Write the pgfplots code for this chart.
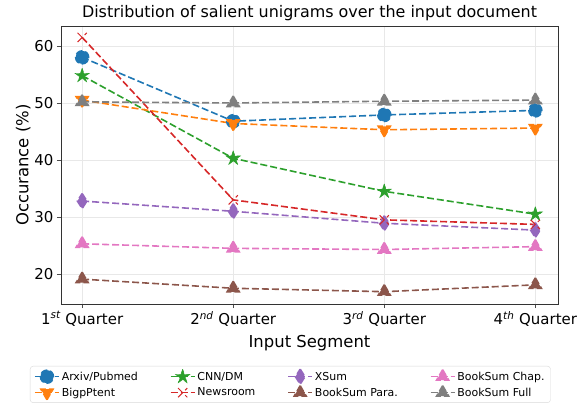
\documentclass[border=0pt]{standalone}
\usepackage{pgfplots}
\pgfplotsset{compat=1.18}
\usepackage{fontspec}
\setmainfont{DejaVu Sans}
\usetikzlibrary{plotmarks}
\definecolor{c0}{HTML}{1F77B4}
\definecolor{c1}{HTML}{FF7F0E}
\definecolor{c2}{HTML}{2CA02C}
\definecolor{c3}{HTML}{D62728}
\definecolor{c4}{HTML}{9467BD}
\definecolor{c5}{HTML}{8C564B}
\definecolor{c6}{HTML}{E377C2}
\definecolor{c7}{HTML}{7F7F7F}
\pgfdeclareplotmark{fstar}{%
\pgfpathmoveto{\pgfpointpolar{90}{\pgfplotmarksize}}%
\pgfpathlineto{\pgfpointpolar{126}{0.382\pgfplotmarksize}}%
\pgfpathlineto{\pgfpointpolar{162}{\pgfplotmarksize}}%
\pgfpathlineto{\pgfpointpolar{198}{0.382\pgfplotmarksize}}%
\pgfpathlineto{\pgfpointpolar{234}{\pgfplotmarksize}}%
\pgfpathlineto{\pgfpointpolar{270}{0.382\pgfplotmarksize}}%
\pgfpathlineto{\pgfpointpolar{306}{\pgfplotmarksize}}%
\pgfpathlineto{\pgfpointpolar{342}{0.382\pgfplotmarksize}}%
\pgfpathlineto{\pgfpointpolar{18}{\pgfplotmarksize}}%
\pgfpathlineto{\pgfpointpolar{54}{0.382\pgfplotmarksize}}%
\pgfpathclose
\pgfusepathqfillstroke}
\begin{document}
\begin{tikzpicture}
\useasboundingbox (-61bp,-103bp) rectangle (521bp,304bp);
\begin{axis}[
  at={(0,0)}, anchor=south west,
  scale only axis,
  width=497bp, height=278bp,
  xmin=-0.14, xmax=3.15,
  ymin=14.74, ymax=63.5,
  xtick={0,1,2,3},
  xticklabels={1\textsuperscript{\itshape st} Quarter,2\textsuperscript{\itshape nd} Quarter,3\textsuperscript{\itshape rd} Quarter,4\textsuperscript{\itshape th} Quarter},
  ytick={20,30,40,50,60},
  /pgf/number format/assume math mode=true,
  tick label style={font=\fontsize{15}{16.5}\selectfont},
  label style={font=\fontsize{16.5}{18}\selectfont},
  title style={font=\fontsize{16}{18}\selectfont, yshift=-4bp},
  title={Distribution of salient unigrams over the input document},
  xlabel={Input Segment},
  ylabel={Occurance (\%)},
  xlabel style={yshift=-2bp},
  ylabel style={yshift=-3bp},
  tick align=outside, tick pos=left,
  major tick length=4bp,
  grid=major,
  grid style={gray!18, line width=0.7pt},
  axis line style={black!80, line width=0.9pt},
  tick style={black!70, line width=0.7pt},
  every axis plot/.append style={line width=1.6pt, dash pattern=on 7bp off 3bp, mark options={solid}},
  legend image code/.code={\draw[mark repeat=2,mark phase=2,#1] plot coordinates {(0bp,0bp) (12bp,0bp) (24bp,0bp)};},
  legend columns=4,
  legend style={
    at={(-0.0624,-0.223)}, anchor=north west,
    font=\fontsize{11}{12.5}\selectfont,
    draw=gray!30, rounded corners=3pt,
    /tikz/every even column/.append style={column sep=30bp},
    row sep=1.5bp, inner xsep=4pt, inner ysep=3pt
  },
  legend cell align=left,
]
\addplot[c0, mark=*, mark size=6.5bp, mark options={fill=c0}] coordinates {(0,58.0) (1,46.8) (2,47.9) (3,48.7)};
\addlegendentry{Arxiv/Pubmed}
\addplot[c2, mark=fstar, mark size=7.5bp, mark options={fill=c2, line width=0.5pt}] coordinates {(0,54.8) (1,40.3) (2,34.5) (3,30.5)};
\addlegendentry{CNN/DM}
\addplot[c4, mark=diamond*, mark size=7.5bp, mark options={fill=c4, xscale=0.85}] coordinates {(0,32.8) (1,31.0) (2,28.9) (3,27.7)};
\addlegendentry{XSum}
\addplot[c6, mark=triangle*, mark size=7bp, mark options={fill=c6}] coordinates {(0,25.3) (1,24.5) (2,24.3) (3,24.8)};
\addlegendentry{BookSum Chap.}
\addplot[c1, mark=triangle*, mark size=7bp, mark options={fill=c1, rotate=180}] coordinates {(0,50.5) (1,46.4) (2,45.3) (3,45.6)};
\addlegendentry{BigpPtent}
\addplot[c3, mark=x, mark size=6.5bp, mark options={line width=1pt}] coordinates {(0,61.5) (1,33.0) (2,29.5) (3,28.7)};
\addlegendentry{Newsroom}
\addplot[c5, mark=triangle*, mark size=7bp, mark options={fill=c5}] coordinates {(0,19.1) (1,17.5) (2,16.9) (3,18.1)};
\addlegendentry{BookSum Para.}
\addplot[c7, mark=triangle*, mark size=7bp, mark options={fill=c7}] coordinates {(0,50.2) (1,50.0) (2,50.3) (3,50.5)};
\addlegendentry{BookSum Full}
\end{axis}
\end{tikzpicture}
\end{document}
